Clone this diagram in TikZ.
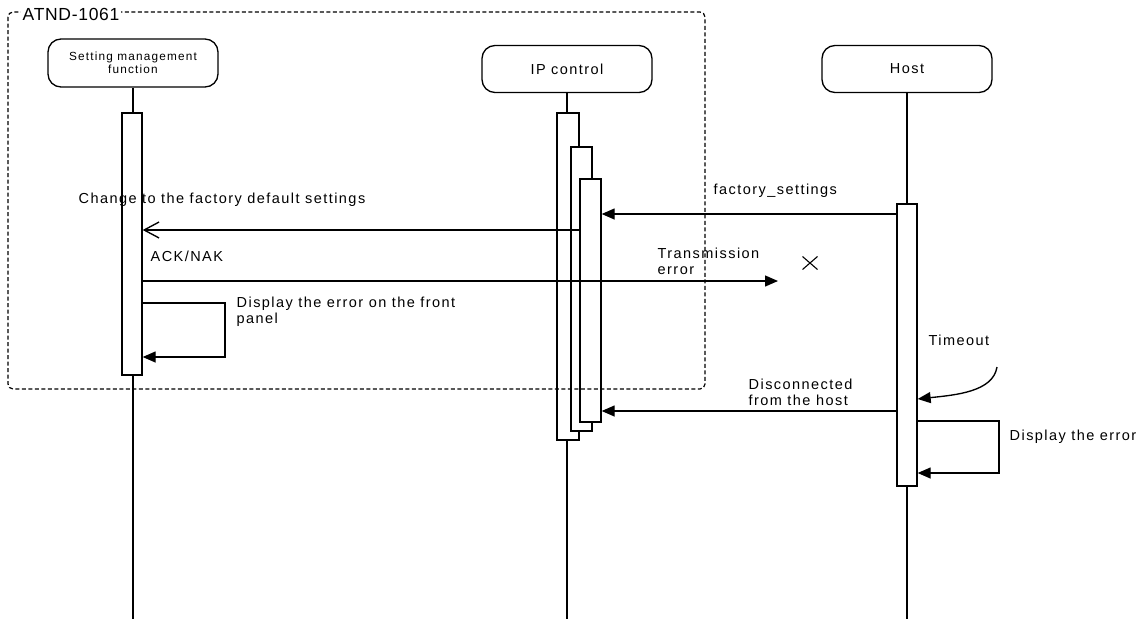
\documentclass[tikz,border=0pt]{standalone}
\usepackage{fontspec}
\setmainfont{Liberation Sans}[LetterSpace=10]
\usetikzlibrary{arrows.meta,calc}
\begin{document}
\begin{tikzpicture}[x=1pt,y=-1pt,line width=1.35pt,
  actor/.style={draw, rounded corners=13pt, minimum width=170pt, minimum height=47pt, align=center, inner sep=2pt},
  bar/.style={draw, fill=white, minimum width=21pt, inner sep=0pt},
  lbl/.style={inner sep=0pt, anchor=west, align=left, font=\fontsize{14.5}{16}\selectfont},
  fa/.style={-{Triangle[length=13pt,width=11pt]}},
  oa/.style={-{Straight Barb[length=15pt,width=16pt]}},
  frame/.style={dash pattern=on 4pt off 2.5pt, rounded corners=5pt, line width=1.2pt}]
\useasboundingbox (0,0) rectangle (1141,619);

% actors
\node[actor, minimum height=48pt, font=\fontsize{11.8}{13}\selectfont] (sm) at (133,63) {Setting management\\function};
\node[actor, font=\fontsize{14.5}{16}\selectfont] (ip) at (567,69) {IP control};
\node[actor, font=\fontsize{14.5}{16}\selectfont] (ho) at (907,69) {Host};

% lifelines
\coordinate (smend) at (133,619);
\coordinate (ipend) at (567,619);
\coordinate (hoend) at (907,619);
\draw (sm.south) -- (smend);
\draw (ip.south) -- (ipend);
\draw (ho.south) -- (hoend);

% activation bars
\node[bar, minimum width=20pt, minimum height=262pt] (sb) at (132,244) {};
\node[bar, minimum width=22pt, minimum height=327pt] (ip1) at (568,276.5) {};
\node[bar, minimum height=284pt] (ip2) at (581.5,289) {};
\node[bar, minimum height=243pt] (ip3) at (590.5,300.5) {};
\node[bar, minimum width=20pt, minimum height=282pt] (hb) at (907,345) {};

% messages
\draw[fa] (hb.west |- 0,214) -- (ip3.east |- 0,214);
\node[lbl] (l1) at (713,191) {factory\_settings};

\draw[oa] (ip3.west |- 0,230) -- (sb.east |- 0,230);
\node[lbl] (l2) at (78,200) {Change to the factory default settings};

\node[lbl] (l3) at (150,256) {ACK/NAK};
\coordinate (lost) at (778,281);
\draw[fa] (sb.east |- 0,281) -- (lost);
\node[lbl] (l4) at (657,261) {Transmission\\error};
\coordinate (xm) at (810,263);
\draw[line width=1.1pt] ($(xm)+(-7.5,-6.5)$) -- ($(xm)+(7.5,6.5)$);
\draw[line width=1.1pt] ($(xm)+(7.5,-6.5)$) -- ($(xm)+(-7.5,6.5)$);

\draw[fa] (sb.east |- 0,303) -- (225,303) -- (225,357) -- (sb.east |- 0,357);
\node[lbl] (l5) at (236,312) {Display the error on the front\\panel};

\coordinate (tos) at (997,367);
\draw[fa] (tos) .. controls (993,392) and (955,395) .. (hb.east |- 0,399);
\node[lbl] (l6) at (928,340) {Timeout};

\draw[fa] (hb.west |- 0,411) -- (ip3.east |- 0,411);
\node[lbl] (l7) at (748,392) {Disconnected\\from the host};

\draw[fa] (hb.east |- 0,421) -- (999,421) -- (999,473) -- (hb.east |- 0,473);
\node[lbl] (l8) at (1009,437) {Display the error};

% frame
\draw[frame] (8,12) rectangle (705,389);
\node[fill=white, inner sep=2pt, anchor=west, font=\fontsize{17.5}{19}\selectfont\addfontfeature{LetterSpace=4}] (fl) at (20,14) {ATND-1061};
\end{tikzpicture}
\end{document}
